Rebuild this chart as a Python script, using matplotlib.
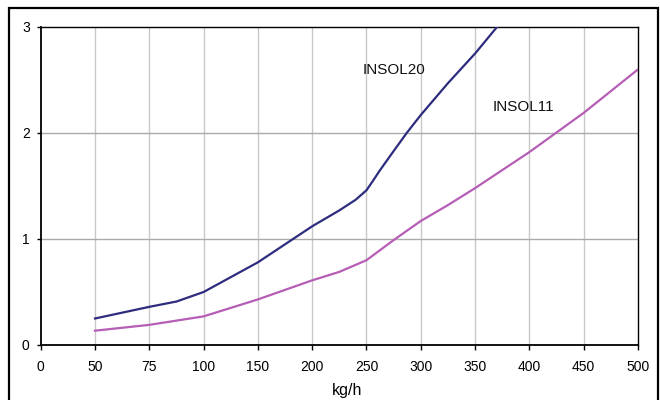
import numpy as np
import matplotlib
matplotlib.use("Agg")
import matplotlib.pyplot as plt
from matplotlib.patches import Rectangle

# Category-style x axis labels (evenly spaced on the chart)
x_tick_values = [0, 50, 75, 100, 150, 200, 250, 300, 350, 400, 450, 500]
y_ticks = [0, 1, 2, 3]

# INSOL20 series (kg/h, value)
insol20_x = [50, 75, 87.5, 100, 150, 200, 225, 240, 250, 256, 262.5, 275, 287, 300, 325, 350, 375]
insol20_y = [0.25, 0.36, 0.41, 0.50, 0.78, 1.12, 1.27, 1.37, 1.46, 1.55, 1.65, 1.83, 2.00, 2.17, 2.47, 2.75, 3.06]

# INSOL11 series (kg/h, value)
insol11_x = [50, 75, 100, 150, 200, 225, 250, 275, 300, 325, 350, 400, 450, 500]
insol11_y = [0.135, 0.19, 0.27, 0.43, 0.61, 0.69, 0.80, 0.99, 1.17, 1.32, 1.48, 1.82, 2.19, 2.60]

plt.rcParams['font.family'] = ['Liberation Sans', 'DejaVu Sans']

idx = np.arange(len(x_tick_values), dtype=float)
tv = np.array(x_tick_values, dtype=float)

def fwd(x):
    return np.interp(x, tv, idx)

def inv(u):
    return np.interp(u, idx, tv)

fig = plt.figure(figsize=(6.6, 4.0), dpi=100)
ax = fig.add_axes([40.7/660, 1-345/400, (638-40.7)/660, (345-27)/400])

ax.set_xscale('function', functions=(fwd, inv))
ax.set_xlim(0, 500)
ax.set_ylim(0, 3)

ax.set_xticks(x_tick_values)
ax.set_xticklabels([str(v) for v in x_tick_values], fontsize=10)
ax.set_yticks(y_ticks)
ax.set_yticklabels([str(v) for v in y_ticks], fontsize=10)
ax.xaxis.set_minor_locator(matplotlib.ticker.NullLocator())

ax.tick_params(axis='x', direction='out', length=3.6, width=1, pad=7.5, color='black')
ax.tick_params(axis='y', direction='out', length=2.9, width=1, pad=5, color='black')

for v in x_tick_values[1:-1]:
    ax.axvline(v, color='#c8c8c8', lw=1.0, zorder=0)
for v in [1, 2]:
    ax.axhline(v, color='#aaaaaa', lw=1.0, zorder=0)

for s in ax.spines.values():
    s.set_color('black')
    s.set_linewidth(1.0)
ax.spines['left'].set_linewidth(1.3)
ax.spines['bottom'].set_linewidth(1.3)

ax.plot(insol20_x, insol20_y, color='#2E2C7E', lw=1.6, zorder=3)
ax.plot(insol11_x, insol11_y, color='#B65DB5', lw=1.6, zorder=3)

ax.text(inv((394.5-40.7)/54.3), (345-69.5)/106, 'INSOL20', fontsize=11,
        ha='center', va='center', color='#111111')
ax.text(inv((523.5-40.7)/54.3), (345-107)/106, 'INSOL11', fontsize=11,
        ha='center', va='center', color='#111111')

fig.text(347/660, 1-390/400, 'kg/h', fontsize=11.5, ha='center', va='center')

fig.patches.append(Rectangle((9/660, -0.05), (658-9)/660, 0.05 + 1-7.5/400,
                             transform=fig.transFigure, fill=False,
                             edgecolor='black', lw=1.6))

fig.savefig('out.png', dpi=100)
